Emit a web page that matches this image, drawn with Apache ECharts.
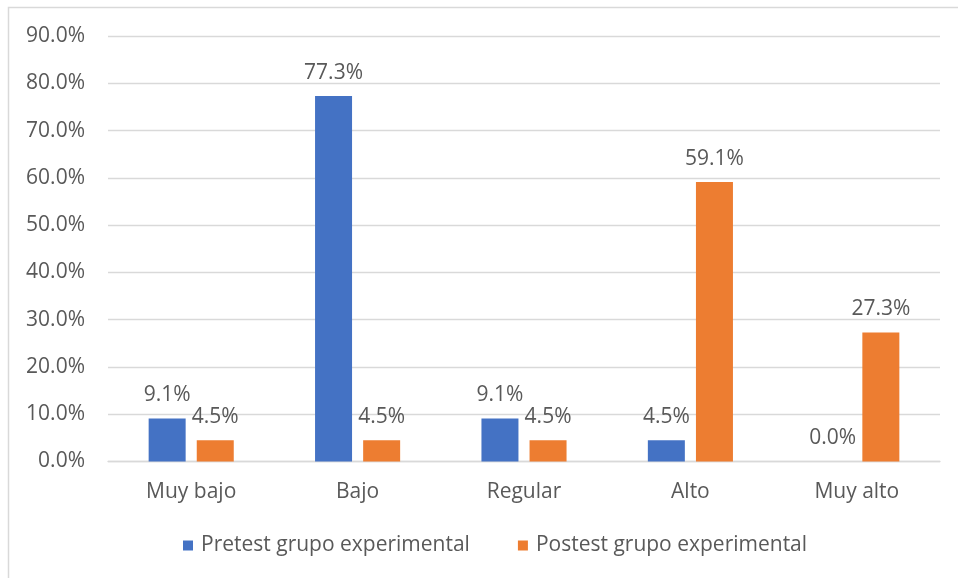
<!DOCTYPE html>
<html>
<head>
<meta charset="utf-8">
<script src="https://cdn.jsdelivr.net/npm/echarts@6/dist/echarts.min.js"></script>
<style>
html,body{margin:0;padding:0;background:#fff;}
#c{width:958px;height:578px;}
</style>
</head>
<body>
<div id="c"></div>
<script>
const categories = ['Muy bajo', 'Bajo', 'Regular', 'Alto', 'Muy alto'];
const pretest = [9.1, 77.3, 9.1, 4.5, 0.0];
const postest = [4.5, 4.5, 4.5, 59.1, 27.3];
const seriesNames = ['Pretest grupo experimental', 'Postest grupo experimental'];

const FONT = 'Open Sans';
const TXT = '#595959';
const chart = echarts.init(document.getElementById('c'), null, {renderer: 'canvas'});
const labelCfg = {
  show: true, position: 'top', distance: 13,
  color: TXT, fontFamily: FONT, fontSize: 21,
  formatter: p => p.value.toFixed(1) + '%'
};
chart.setOption({
  backgroundColor: '#fff',
  animation: false,
  graphic: [{
    type: 'rect', silent: true,
    shape: {x: 8.5, y: 7.5, width: 980, height: 620},
    style: {fill: 'none', stroke: '#d9d9d9', lineWidth: 1.5}
  }],
  grid: {left: 108, right: 18, top: 36, bottom: 116.5, containLabel: false},
  legend: {
    bottom: 17, left: 178,
    itemWidth: 10, itemHeight: 10, itemGap: 48,
    icon: 'rect',
    textStyle: {color: TXT, fontFamily: FONT, fontSize: 21, padding: [0, 0, 0, 3]},
    data: seriesNames
  },
  xAxis: {
    type: 'category', data: categories,
    axisLine: {lineStyle: {color: '#d9d9d9', width: 1.3}},
    axisTick: {show: false},
    axisLabel: {color: TXT, fontFamily: FONT, fontSize: 21, margin: 20}
  },
  yAxis: {
    type: 'value', min: 0, max: 90, interval: 10,
    axisLine: {show: false}, axisTick: {show: false},
    splitLine: {lineStyle: {color: '#d9d9d9', width: 1.3}},
    axisLabel: {color: TXT, fontFamily: FONT, fontSize: 21, margin: 23,
      formatter: v => v.toFixed(1) + '%'}
  },
  series: [
    {name: seriesNames[0], type: 'bar', data: pretest, barWidth: 37, barGap: '30%',
     itemStyle: {color: '#4472C4'}, label: labelCfg},
    {name: seriesNames[1], type: 'bar', data: postest, barWidth: 37, barGap: '30%',
     itemStyle: {color: '#ED7D31'}, label: labelCfg}
  ]
});
</script>
</body>
</html>
